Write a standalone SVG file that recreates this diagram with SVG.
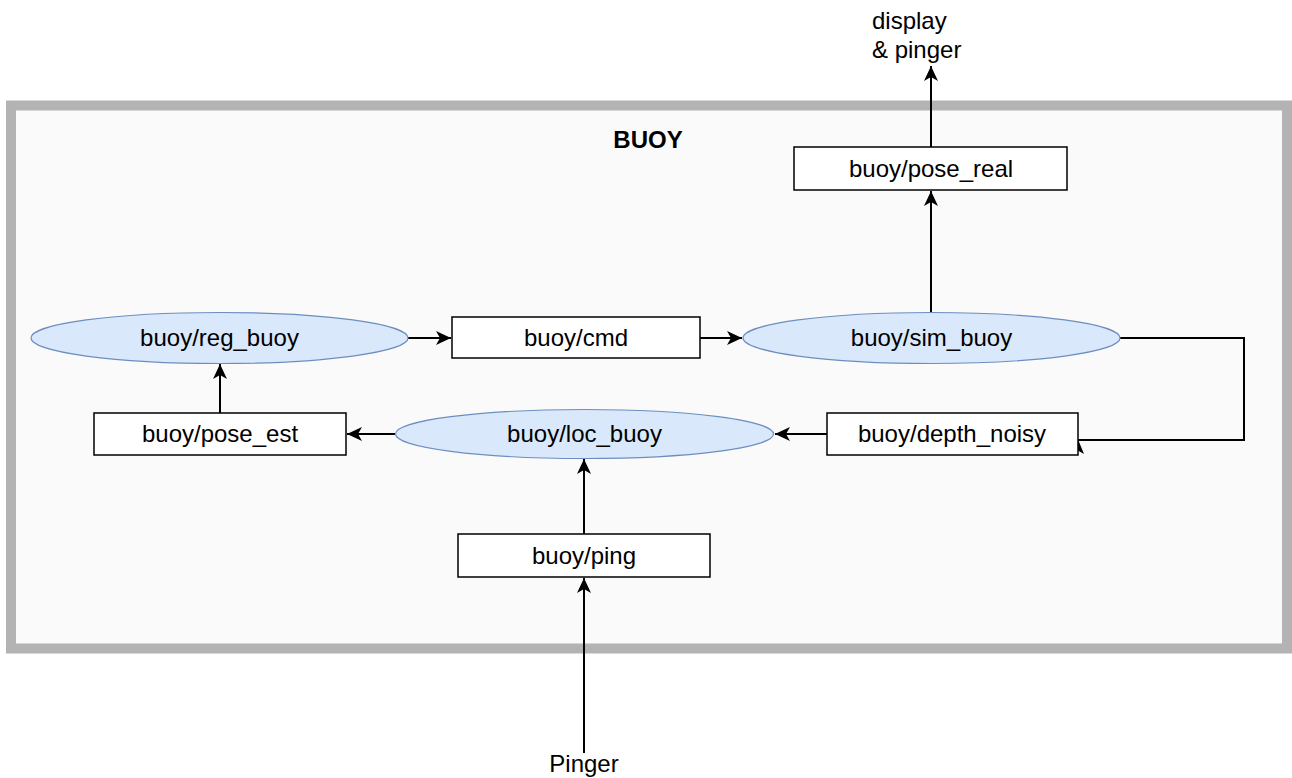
<svg xmlns="http://www.w3.org/2000/svg" width="1292" height="778" viewBox="0 0 1292 778">
<style>
text{font-family:"Liberation Sans",Arial,sans-serif;font-size:24px;fill:#000;text-anchor:middle}
.box{fill:#fff;stroke:#000;stroke-width:1.5}
.ell{fill:#dae8fc;stroke:#6c8ebf;stroke-width:1.2}
.edge{fill:none;stroke:#000;stroke-width:2}
</style>
<defs>
<marker id="arr" markerUnits="userSpaceOnUse" markerWidth="16" markerHeight="14" refX="15" refY="7" orient="auto" viewBox="0 0 16 14">
<path d="M0,0 L15,7 L0,14 L4,7 Z" fill="#000"/>
</marker>
</defs>
<g id="buoy-container">
<rect x="11" y="105.5" width="1276" height="543" fill="#fafafa" stroke="#b3b3b3" stroke-width="10"/>
<text x="648" y="148" style="font-weight:bold">BUOY</text>
</g>
<g id="connectors">
<path class="edge" d="M931,147 V66" marker-end="url(#arr)"/>
<path class="edge" d="M931,312 V191" marker-end="url(#arr)"/>
<path class="edge" d="M408,338 H451" marker-end="url(#arr)"/>
<path class="edge" d="M700,338 H742" marker-end="url(#arr)"/>
<path class="edge" d="M220,413 V364" marker-end="url(#arr)"/>
<path class="edge" d="M395,434 H347" marker-end="url(#arr)"/>
<path class="edge" d="M827,434 H775" marker-end="url(#arr)"/>
<path class="edge" d="M584,534 V459" marker-end="url(#arr)"/>
<path class="edge" d="M584,753 V578" marker-end="url(#arr)"/>
<path class="edge" d="M1120,338 H1244 V440 H1077"/>
<path d="M1077,437 L1084,454 L1077,450 L1070,454 Z" fill="#000"/>
</g>
<g id="display-pinger">
<text x="872" y="29" style="text-anchor:start">display</text>
<text x="872" y="58" style="text-anchor:start">&amp; pinger</text>
</g>
<g id="pose_real">
<rect class="box" x="794" y="147" width="273" height="43"/>
<text x="931" y="177">buoy/pose_real</text>
</g>
<g id="reg_buoy">
<ellipse class="ell" cx="219.5" cy="338" rx="188.5" ry="25.5"/>
<text x="219.5" y="346">buoy/reg_buoy</text>
</g>
<g id="cmd">
<rect class="box" x="452" y="317" width="248" height="41"/>
<text x="576" y="346">buoy/cmd</text>
</g>
<g id="sim_buoy">
<ellipse class="ell" cx="931.5" cy="338" rx="188.5" ry="25.5"/>
<text x="931.5" y="346">buoy/sim_buoy</text>
</g>
<g id="pose_est">
<rect class="box" x="94" y="413" width="252" height="42"/>
<text x="220" y="442">buoy/pose_est</text>
</g>
<g id="loc_buoy">
<ellipse class="ell" cx="584.5" cy="434" rx="189" ry="24.5"/>
<text x="584.5" y="442">buoy/loc_buoy</text>
</g>
<g id="depth_noisy">
<rect class="box" x="827" y="413" width="251" height="42"/>
<text x="952" y="442">buoy/depth_noisy</text>
</g>
<g id="ping">
<rect class="box" x="458" y="534" width="252" height="43"/>
<text x="584" y="564">buoy/ping</text>
</g>
<g id="pinger">
<text x="584" y="772">Pinger</text>
</g>
</svg>
